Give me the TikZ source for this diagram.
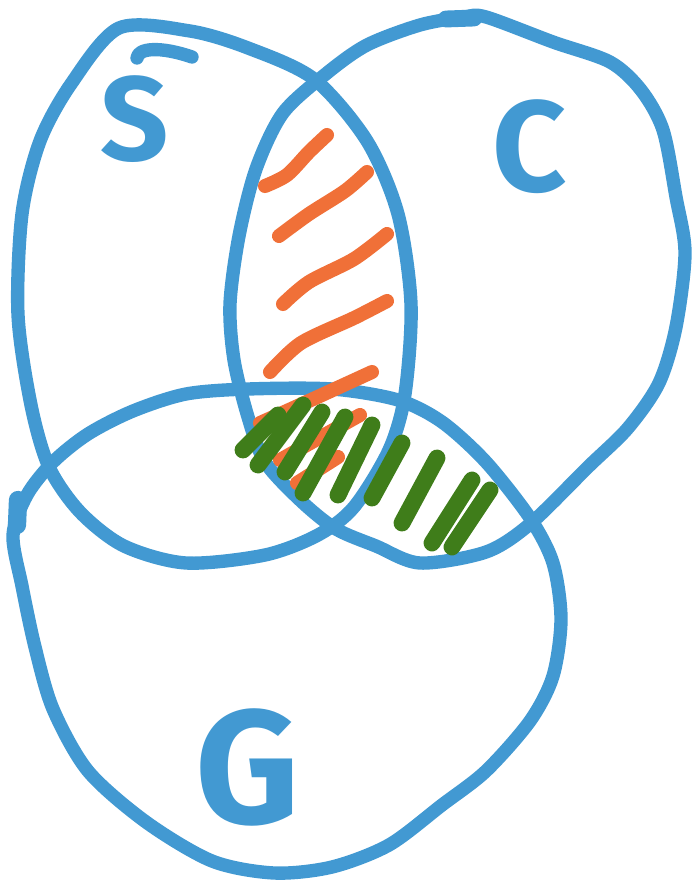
\documentclass[tikz,border=0pt]{standalone}
\usepackage{fontspec}
\setmainfont{Fira Sans}
\usetikzlibrary{positioning}

\definecolor{penblue}{RGB}{66,153,210}
\definecolor{penorange}{RGB}{240,112,56}
\definecolor{pengreen}{RGB}{63,125,26}

\begin{document}
\begin{tikzpicture}[
    x=0.025cm, y=-0.025cm,
    outline/.style={draw=penblue, line width=9.5pt, line cap=round, line join=round},
    orangehatch/.style={draw=penorange, line width=10pt, line cap=round},
    greenhatch/.style={draw=pengreen, line width=12pt, line cap=round},
    letter/.style={text=penblue, inner sep=0pt, font=\bfseries\fontsize{#1}{#1}\selectfont}
]
\useasboundingbox (0,0) rectangle (692,881);

\draw [outline] plot [smooth cycle] coordinates {
    (119,28) (190,31) (248,48) (314,79) (367,141) (398,214) (411,304)
    (405,394) (389,450) (354,507) (318,535) (265,555) (186,563) (124,546)
    (80,512) (49,467) (31,405) (18,315) (22,214) (40,141) (71,84)};
\draw [outline] plot [smooth cycle] coordinates {
    (327,73) (367,45) (420,25) (464,17) (486,17) (553,42) (610,62)
    (641,90) (663,130) (676,197) (685,253) (676,327) (659,383) (628,428)
    (588,467) (530,524) (486,552) (420,563) (376,546) (336,529) (301,501)
    (265,462) (248,417) (234,360) (230,304) (239,236) (256,169) (283,113)};
\draw [outline] plot [smooth cycle] coordinates {
    (27,495) (53,462) (88,434) (133,411) (186,394) (248,389) (332,389)
    (398,400) (442,422) (486,462) (530,518) (553,563) (561,619) (553,676)
    (530,721) (486,771) (442,805) (389,845) (332,867) (274,873) (212,861)
    (146,822) (88,771) (53,709) (35,647) (22,586) (13,535)};
\draw [outline, line width=12pt] (446,19) -- (474,18);
\draw [outline, line width=13pt] (18,500) -- (17,525);
\draw [outline] (137,58) .. controls (138,48) and (160,46) .. (192,57);

\node (S) [letter=85] at (135,119) {S};
\node (C) [letter=92] at (530,147) {C};
\node (G) [letter=115] at (248,767) {G};

\draw [orangehatch] plot [smooth] coordinates {(265,186) (287,175) (309,152) (327,135)};
\draw [orangehatch] plot [smooth] coordinates {(279,236) (309,214) (345,191) (367,172)};
\draw [orangehatch] plot [smooth] coordinates {(283,304) (309,282) (354,259) (387,234)};
\draw [orangehatch] plot [smooth] coordinates {(270,372) (301,343) (354,318) (387,301)};
\draw [orangehatch] plot [smooth] coordinates {(260,423) (300,405) (372,372)};
\draw [orangehatch] (280,460) -- (360,415);
\draw [orangehatch] (297,483) -- (338,457);

\draw [greenhatch] (243,450) -- (278,415);
\draw [greenhatch] (258,465) -- (303,405);
\draw [greenhatch] (285,472) -- (322,412);
\draw [greenhatch] (303,493) -- (345,417);
\draw [greenhatch] (338,495) -- (372,425);
\draw [greenhatch] (372,498) -- (402,443);
\draw [greenhatch] (402,523) -- (437,458);
\draw [greenhatch] (432,543) -- (472,480);
\draw [greenhatch] (452,547) -- (490,490);

\end{tikzpicture}
\end{document}
